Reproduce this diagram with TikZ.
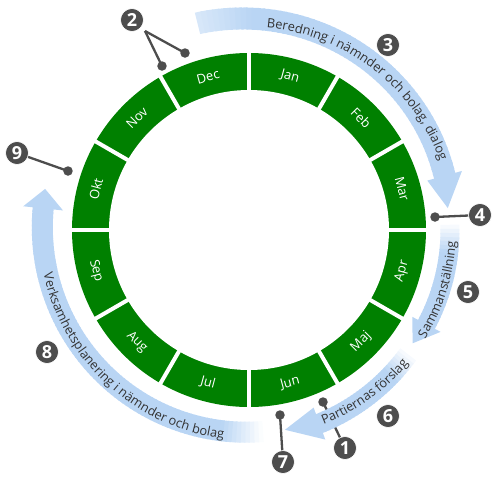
\documentclass[tikz,border=0pt]{standalone}
\usepackage{fontspec}
\setmainfont{Open Sans}
\usetikzlibrary{decorations.text}
\definecolor{ringgreen}{RGB}{0,128,0}
\definecolor{bandblue}{RGB}{185,213,244}
\definecolor{markgray}{RGB}{77,77,77}
\definecolor{textgray}{RGB}{51,51,51}
\newcommand\arctext{\fontsize{12.8}{15}\selectfont\color{textgray}}
% gradient band: #1 start angle, #2 end angle, #3 r start, #4 r end, #5 start pct, #6 fade deg, #7 steps, #8 half width
\newcommand\gband[8]{%
  \pgfmathsetmacro\gbstep{(#2-#1)/#7}%
  \foreach \i in {1,...,#7}{%
    \pgfmathsetmacro\ga{#1+(\i-1)*\gbstep}%
    \pgfmathsetmacro\gb{#1+\i*\gbstep+0.4*sign(\gbstep)}%
    \pgfmathsetmacro\gr{#3+(#4-#3)*(\i-0.5)/#7}%
    \pgfmathsetmacro\gri{\gr-#8}%
    \pgfmathsetmacro\gro{\gr+#8}%
    \pgfmathtruncatemacro\gp{#5+(100-#5)*min(1,abs((\i-0.5)*\gbstep)/#6)}%
    \fill[bandblue!\gp!white] (\ga:\gri) arc[start angle=\ga, end angle=\gb, radius=\gri]
      -- (\gb:\gro) arc[start angle=\gb, end angle=\ga, radius=\gro] -- cycle;
  }}
% head: #1 base angle, #2 tip angle, #3 r base, #4 r tip, #5 half width
\newcommand\ghead[5]{%
  \pgfmathsetmacro\hri{#3-#5}\pgfmathsetmacro\hro{#3+#5}%
  \fill[bandblue] (#1:\hri) -- (#2:#4) -- (#1:\hro) -- cycle;}
\begin{document}
\begin{tikzpicture}[x=1pt,y=1pt,
  monthlabel/.style={text=white, font=\fontsize{13}{15}\selectfont, inner sep=0pt},
  numbadge/.style={circle, fill=markgray, draw=white, line width=0.6pt, minimum size=23pt, inner sep=0pt, text=white, font=\bfseries\fontsize{18}{18}\selectfont},
  enddot/.style={circle, fill=markgray, minimum size=9.5pt, inner sep=0pt},
  pointer/.style={draw=markgray, line width=2.3pt},
  gapline/.style={white, line width=4pt},
]
\useasboundingbox (-249,-250) rectangle (251,230);

% ring
\fill[ringgreen] (0,0) circle (177);
\fill[white] (0,0) circle (140);
\foreach \a in {0,30,...,330}{\draw[gapline] (\a:137) -- (\a:180);}
\foreach \m [count=\i from 0] in {Jan,Feb,Mar,Apr,Maj,Jun,Jul,Aug,Sep,Okt,Nov,Dec}{
  \pgfmathsetmacro\ang{75-30*\i}
  \pgfmathsetmacro\rot{ifthenelse(sin(\ang)>=0, \ang-90, \ang+90)}
  \node[monthlabel, rotate=\rot] (m\i) at (\ang:158.5) {\m};
}

% markers (nodes)
\node[numbadge] (n2) at (-117,210) {2};
\node[numbadge] (n3) at (139,185) {3};
\node[numbadge] (n4) at (231,15) {4};
\node[numbadge] (n5) at (219,-62) {5};
\node[numbadge] (n6) at (139,-186) {6};
\node[numbadge] (n1) at (96,-218) {1};
\node[numbadge] (n7) at (34,-232) {7};
\node[numbadge] (n8) at (-202,-122) {8};
\node[numbadge] (n9) at (-232,77) {9};
\coordinate (j2) at (-104,199);

% pointer lines (below the bands)
\draw[pointer] (j2) -- (-87,164);
\draw[pointer] (j2) -- (-64,177);
\draw[pointer] (186,13) -- (n4);
\draw[pointer] (74,-172) -- (n1);
\draw[pointer] (31,-185) -- (n7);
\draw[pointer] (-181,59) -- (n9);

% bands
\gband{104}{15.5}{213}{203}{55}{15}{60}{11}
\ghead{15.5}{6.3}{203}{200}{18}
\gband{1.5}{-28}{201}{201}{5}{8}{25}{9.5}
\ghead{-28}{-34.7}{201}{199}{16}
\gband{-38}{-70}{202}{206}{5}{8}{30}{10}
\ghead{-70}{-79.8}{206}{203}{17}
\gband{274}{174}{202}{207}{0}{12}{80}{10.5}
\ghead{174}{168.6}{207}{208}{20}

% band texts
\path[decorate, decoration={text along path, text align=center,
  text={|\arctext|Beredning i nämnder och bolag, dialog}}]
  (95:203) arc[start angle=95, end angle=10, radius=203];
\path[decorate, decoration={text along path, text align=center,
  text={|\arctext|Sammanställning}}]
  (-40:207) arc[start angle=-40, end angle=5, radius=207];
\path[decorate, decoration={text along path, text align=center,
  text={|\arctext|Partiernas förslag}}]
  (-75:208) arc[start angle=-75, end angle=-34, radius=208];
\path[decorate, decoration={text along path, text align=center,
  text={|\arctext|Verksamhetsplanering i nämnder och bolag}}]
  (185:210) arc[start angle=185, end angle=270, radius=210];

% end dots
\node[enddot] (d2a) at (-87,164) {};
\node[enddot] (d2b) at (-64,177) {};
\node[enddot] (d4) at (186,13) {};
\node[enddot] (d1) at (74,-172) {};
\node[enddot] (d7) at (31,-185) {};
\node[enddot] (d9) at (-181,59) {};
\end{tikzpicture}
\end{document}
